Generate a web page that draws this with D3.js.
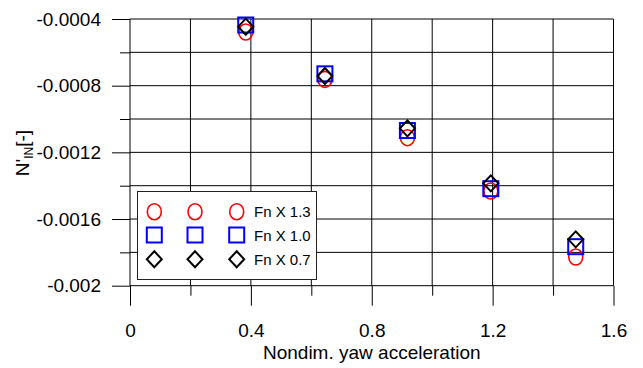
<!DOCTYPE html>
<html>
<head>
<meta charset="utf-8">
<script src="https://cdn.jsdelivr.net/npm/d3@7"></script>
<style>
  body { margin: 0; background: #fff; }
  text { font-family: Arial, "Liberation Sans", sans-serif; fill: #000; }
</style>
</head>
<body>
<div class="graph"></div>
<script>
// nondim. yaw acceleration
const xVals = [0.383, 0.645, 0.918, 1.194, 1.475];
// N'IN for each Froude number factor
const fn13 = [-0.000478, -0.000762, -0.001112, -0.001432, -0.001828];
const fn10 = [-0.000436, -0.000729, -0.001069, -0.001418, -0.001766];
const fn07 = [-0.000446, -0.000742, -0.001056, -0.001386, -0.001722];
const seriesNames = ["Fn X 1.3", "Fn X 1.0", "Fn X 0.7"];
const xTicks = [0, 0.4, 0.8, 1.2, 1.6];
const yTicks = [-0.0004, -0.0008, -0.0012, -0.0016, -0.002];
const yTickLabels = ["-0.0004", "-0.0008", "-0.0012", "-0.0016", "-0.002"];

const width = 643, height = 368;
const plot = { left: 130, right: 613.5, top: 19, bottom: 285.7 };

const x = d3.scaleLinear().domain([0, 1.6]).range([plot.left, plot.right]);
const y = d3.scaleLinear().domain([-0.002, -0.0004]).range([plot.bottom, plot.top]);

const svg = d3.select(".graph").append("svg")
  .attr("width", width)
  .attr("height", height);

// grid
const xGrid = d3.range(0, 1.6001, 0.2);
const yGrid = d3.range(-0.002, -0.00039, 0.0002);

svg.append("g").selectAll("line")
  .data(yGrid)
  .enter().append("line")
  .attr("x1", plot.left).attr("x2", plot.right)
  .attr("y1", d => y(d)).attr("y2", d => y(d))
  .attr("stroke", "#000").attr("stroke-width", 1);

svg.append("g").selectAll("line")
  .data(xGrid)
  .enter().append("line")
  .attr("x1", d => x(d)).attr("x2", d => x(d))
  .attr("y1", plot.top).attr("y2", plot.bottom)
  .attr("stroke", "#000").attr("stroke-width", 1);

// left axis, major + minor ticks
const yAxis = svg.append("g")
  .attr("transform", "translate(" + plot.left + ",0)")
  .call(d3.axisLeft(y).tickValues(yTicks).tickSize(18).tickSizeOuter(0).tickPadding(11)
    .tickFormat((d, i) => yTickLabels[i]));
yAxis.select(".domain").remove();
yAxis.selectAll("text").style("font-size", "19px");

const yMinor = svg.append("g")
  .attr("transform", "translate(" + plot.left + ",0)")
  .call(d3.axisLeft(y).tickValues([-0.0018, -0.0014, -0.001, -0.0006]).tickSize(10).tickFormat(""));
yMinor.select(".domain").remove();

// bottom axis, major + minor ticks
const xAxis = svg.append("g")
  .attr("transform", "translate(0," + plot.bottom + ")")
  .call(d3.axisBottom(x).tickValues(xTicks).tickSize(20).tickSizeOuter(0)
    .tickFormat(d3.format("")));
xAxis.select(".domain").remove();
xAxis.selectAll("text")
  .style("font-size", "19px")
  .attr("y", 51.5)
  .attr("dy", null);

const xMinor = svg.append("g")
  .attr("transform", "translate(0," + plot.bottom + ")")
  .call(d3.axisBottom(x).tickValues([0.2, 0.6, 1.0, 1.4]).tickSize(10).tickFormat(""));
xMinor.select(".domain").remove();

svg.selectAll(".tick line").attr("stroke", "#000");

// axis titles
svg.append("text")
  .attr("x", (plot.left + plot.right) / 2)
  .attr("y", 359)
  .attr("text-anchor", "middle")
  .style("font-size", "19px")
  .text("Nondim. yaw acceleration");

const yLab = svg.append("text")
  .attr("transform", "translate(29,153) rotate(-90)")
  .attr("text-anchor", "middle")
  .style("font-size", "19px");
yLab.append("tspan").text("N'");
yLab.append("tspan").attr("dy", 4).style("font-size", "12px").text("IN");
yLab.append("tspan").attr("dy", -4).text("[-]");

// markers
const drawCircle = (g, cx, cy) => g.append("ellipse")
  .attr("cx", cx).attr("cy", cy).attr("rx", 7).attr("ry", 8)
  .attr("fill", "none").attr("stroke", "#ff0000").attr("stroke-width", 1.6);
const drawSquare = (g, cx, cy) => g.append("rect")
  .attr("x", cx - 7.5).attr("y", cy - 7.5).attr("width", 15).attr("height", 15)
  .attr("fill", "none").attr("stroke", "#0000ff").attr("stroke-width", 2);
const drawDiamond = (g, cx, cy) => g.append("path")
  .attr("d", "M" + cx + "," + (cy - 8) + "L" + (cx + 7.5) + "," + cy + "L" + cx + "," + (cy + 8) + "L" + (cx - 7.5) + "," + cy + "Z")
  .attr("fill", "none").attr("stroke", "#000").attr("stroke-width", 2);
const drawers = [drawCircle, drawSquare, drawDiamond];
const series = [fn13, fn10, fn07];

const pts = svg.append("g");
series.forEach((s, k) => {
  s.forEach((v, i) => drawers[k](pts, x(xVals[i]), y(v)));
});

// legend
const leg = svg.append("g");
leg.append("rect")
  .attr("x", 137.5).attr("y", 191.5)
  .attr("width", 179).attr("height", 88)
  .attr("fill", "#fff").attr("stroke", "#222").attr("stroke-width", 1);
const legRows = [211.7, 235, 259.3];
const legCols = [154.3, 195, 236.7];
seriesNames.forEach((name, k) => {
  legCols.forEach(cx => drawers[k](leg, cx, legRows[k]));
  leg.append("text")
    .attr("x", 254).attr("y", legRows[k] + 5.5)
    .style("font-size", "15px")
    .text(name);
});
</script>
</body>
</html>
